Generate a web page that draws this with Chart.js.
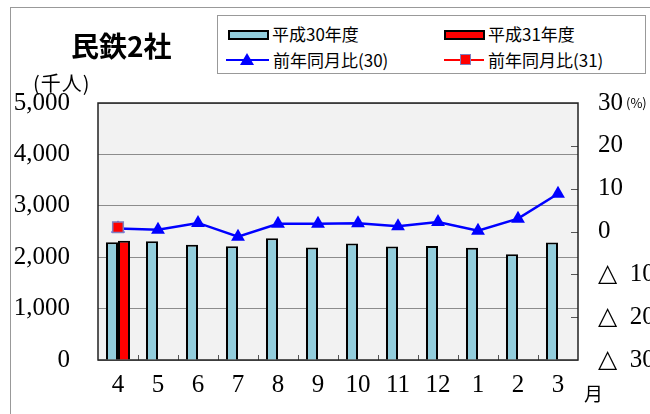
<!DOCTYPE html>
<html lang="ja">
<head>
<meta charset="utf-8">
<title>民鉄2社</title>
<script src="https://cdn.jsdelivr.net/npm/chart.js@4.4.1/dist/chart.umd.min.js"></script>
<style>
  html, body { margin: 0; padding: 0; background: #fff; }
  #wrap { position: relative; width: 650px; height: 414px; overflow: hidden; }
  #frame { position: absolute; left: 10px; top: 7px; width: 700px; height: 500px;
           border-left: 1px solid #999; border-top: 1px solid #999; }
  canvas { position: absolute; left: 0; top: 0; }
  .txt { position: absolute; color: #000; white-space: nowrap;
         font-family: "Noto Sans CJK JP", sans-serif; line-height: 1; }
  #title { left: 71px; top: 31px; font-size: 28px; font-weight: bold; }
  #unit { left: 33px; top: 73px; font-size: 20px; letter-spacing: 1px; }
  #pct { left: 626px; top: 96px; font-size: 13px; }
  #month { left: 584px; top: 383px; font-size: 19px; }
  #legend { position: absolute; left: 217px; top: 15px; width: 427px; height: 57px;
            border: 1px solid #999; background: #fff; }
  .item { position: absolute; height: 20px; }
  .item span { position: absolute; left: 52px; top: 1px; font-size: 17px; line-height: 1;
               font-family: "Noto Sans CJK JP", sans-serif; white-space: nowrap; }
  .box { position: absolute; left: 8px; top: 6px; width: 37px; height: 6px; border: 2px solid #000; }
  .ln { position: absolute; left: 8px; top: 9px; width: 43px; height: 2px; }
  .tri { position: absolute; left: 22px; top: 3px; width: 0; height: 0;
         border-left: 7px solid transparent; border-right: 7px solid transparent;
         border-bottom: 12px solid #0000ff; }
  .sq { position: absolute; left: 24px; top: 4px; width: 9px; height: 9px;
        background: #ff0000; border: 1px solid #7f7fbf; }
</style>
</head>
<body>
<div id="wrap">
  <div id="frame"></div>
  <canvas id="chart" width="650" height="414"></canvas>
  <div class="txt" id="title">民鉄2社</div>
  <div class="txt" id="unit">(千人)</div>
  <div class="txt" id="pct">(%)</div>
  <div class="txt" id="month">月</div>
  <div id="legend">
    <div class="item" style="left:2px;top:8px"><div class="box" style="background:#92cddc"></div><span>平成30年度</span></div>
    <div class="item" style="left:218px;top:8px"><div class="box" style="background:#ff0000"></div><span>平成31年度</span></div>
    <div class="item" style="left:0px;top:34px"><div class="ln" style="background:#0000ff"></div><div class="tri"></div><span style="left:55px">前年同月比(30)</span></div>
    <div class="item" style="left:218px;top:34px"><div class="ln" style="background:#ff0000;width:40px"></div><div class="sq"></div><span>前年同月比(31)</span></div>
  </div>
</div>
<script>
  // 月（4月始まりの年度）
  const months = ['4', '5', '6', '7', '8', '9', '10', '11', '12', '1', '2', '3'];

  // 輸送人員（千人）
  const riders30 = [2290, 2310, 2240, 2215, 2370, 2190, 2265, 2210, 2220, 2185, 2055, 2285];
  const riders31 = [2320, null, null, null, null, null, null, null, null, null, null, null];

  // 前年同月比（%）
  const yoy30 = [0.7, 0.4, 2.0, -1.2, 1.8, 1.8, 1.9, 1.2, 2.2, 0.2, 3.0, 8.8];
  const yoy31 = [1.0, null, null, null, null, null, null, null, null, null, null, null];

  const leftTicks = [0, 1000, 2000, 3000, 4000, 5000];
  const rightTicks = [-30, -20, -10, 0, 10, 20, 30];

  const SERIF = '"Liberation Serif", "DejaVu Serif", serif';

  // 灰色の描画領域、枠線、内向きの目盛
  const plotFrame = {
    id: 'plotFrame',
    beforeDraw(chart) {
      const { ctx, chartArea: a } = chart;
      ctx.save();
      ctx.fillStyle = '#f2f2f2';
      ctx.fillRect(a.left, a.top, a.right - a.left, a.bottom - a.top);
      ctx.restore();
    },
    beforeDatasetsDraw(chart) {
      const { ctx, chartArea: a, scales } = chart;
      ctx.save();
      ctx.strokeStyle = '#555';
      ctx.lineWidth = 1;
      ctx.beginPath();
      rightTicks.slice(1, -1).forEach((v) => {
        const y = Math.round(scales.y1.getPixelForValue(v)) + 0.5;
        ctx.moveTo(a.right - 7, y);
        ctx.lineTo(a.right, y);
      });
      for (let i = 1; i < months.length; i++) {
        const x = Math.round((scales.x.getPixelForValue(i - 1) + scales.x.getPixelForValue(i)) / 2) + 0.5;
        ctx.moveTo(x, a.bottom);
        ctx.lineTo(x, a.bottom - 5);
      }
      ctx.stroke();
      ctx.strokeStyle = '#222';
      ctx.lineWidth = 1.5;
      ctx.strokeRect(a.left, a.top, a.right - a.left, a.bottom - a.top);
      ctx.restore();
    },
  };

  new Chart(document.getElementById('chart'), {
    type: 'bar',
    data: {
      labels: months,
      datasets: [
        {
          type: 'line',
          label: '前年同月比(31)',
          data: yoy31,
          yAxisID: 'y1',
          order: 1,
          borderColor: '#ff0000',
          borderWidth: 2.5,
          pointStyle: 'rect',
          pointRadius: 7.5,
          pointBackgroundColor: '#ff0000',
          pointBorderColor: '#7f7fbf',
          pointBorderWidth: 1.5,
        },
        {
          type: 'line',
          label: '前年同月比(30)',
          data: yoy30,
          yAxisID: 'y1',
          order: 2,
          borderColor: '#0000ff',
          borderWidth: 2.5,
          tension: 0,
          pointStyle: 'triangle',
          pointRadius: 8,
          pointBackgroundColor: '#0000ff',
          pointBorderWidth: 0,
        },
        {
          label: '平成30年度',
          data: riders30,
          yAxisID: 'y',
          order: 3,
          backgroundColor: '#92cddc',
          borderColor: '#000',
          borderWidth: 2,
          categoryPercentage: 0.6,
          barPercentage: 1.0,
        },
        {
          label: '平成31年度',
          data: riders31,
          yAxisID: 'y',
          order: 4,
          backgroundColor: '#ff0000',
          borderColor: '#000',
          borderWidth: 2,
          categoryPercentage: 0.6,
          barPercentage: 1.0,
        },
      ],
    },
    options: {
      responsive: false,
      animation: false,
      layout: { padding: { top: 103, left: 0, right: 0, bottom: 0 } },
      plugins: { legend: { display: false }, tooltip: { enabled: false } },
      scales: {
        x: {
          grid: { display: false, drawTicks: false },
          border: { display: false },
          ticks: { color: '#000', padding: 10, font: { family: SERIF, size: 25 } },
          afterFit: (scale) => { scale.height = 54; },
        },
        y: {
          position: 'left',
          min: 0,
          max: 5000,
          afterBuildTicks: (scale) => { scale.ticks = leftTicks.map((v) => ({ value: v })); },
          grid: { color: '#8c8c8c', lineWidth: 1, drawTicks: false },
          border: { display: false },
          ticks: {
            color: '#000',
            padding: 28,
            font: { family: SERIF, size: 25 },
            callback: (v) => v.toLocaleString('en-US'),
          },
          afterFit: (scale) => { scale.width = 98; },
        },
        y1: {
          position: 'right',
          min: -30,
          max: 30,
          afterBuildTicks: (scale) => { scale.ticks = rightTicks.map((v) => ({ value: v })); },
          grid: { display: false, drawTicks: false },
          border: { display: false },
          ticks: {
            color: '#000',
            padding: 20,
            font: { family: SERIF, size: 25 },
            callback: (v) => (v < 0 ? '△  ' + (-v) : String(v)),
          },
          afterFit: (scale) => { scale.width = 72; },
        },
      },
    },
    plugins: [plotFrame],
  });
</script>
</body>
</html>
